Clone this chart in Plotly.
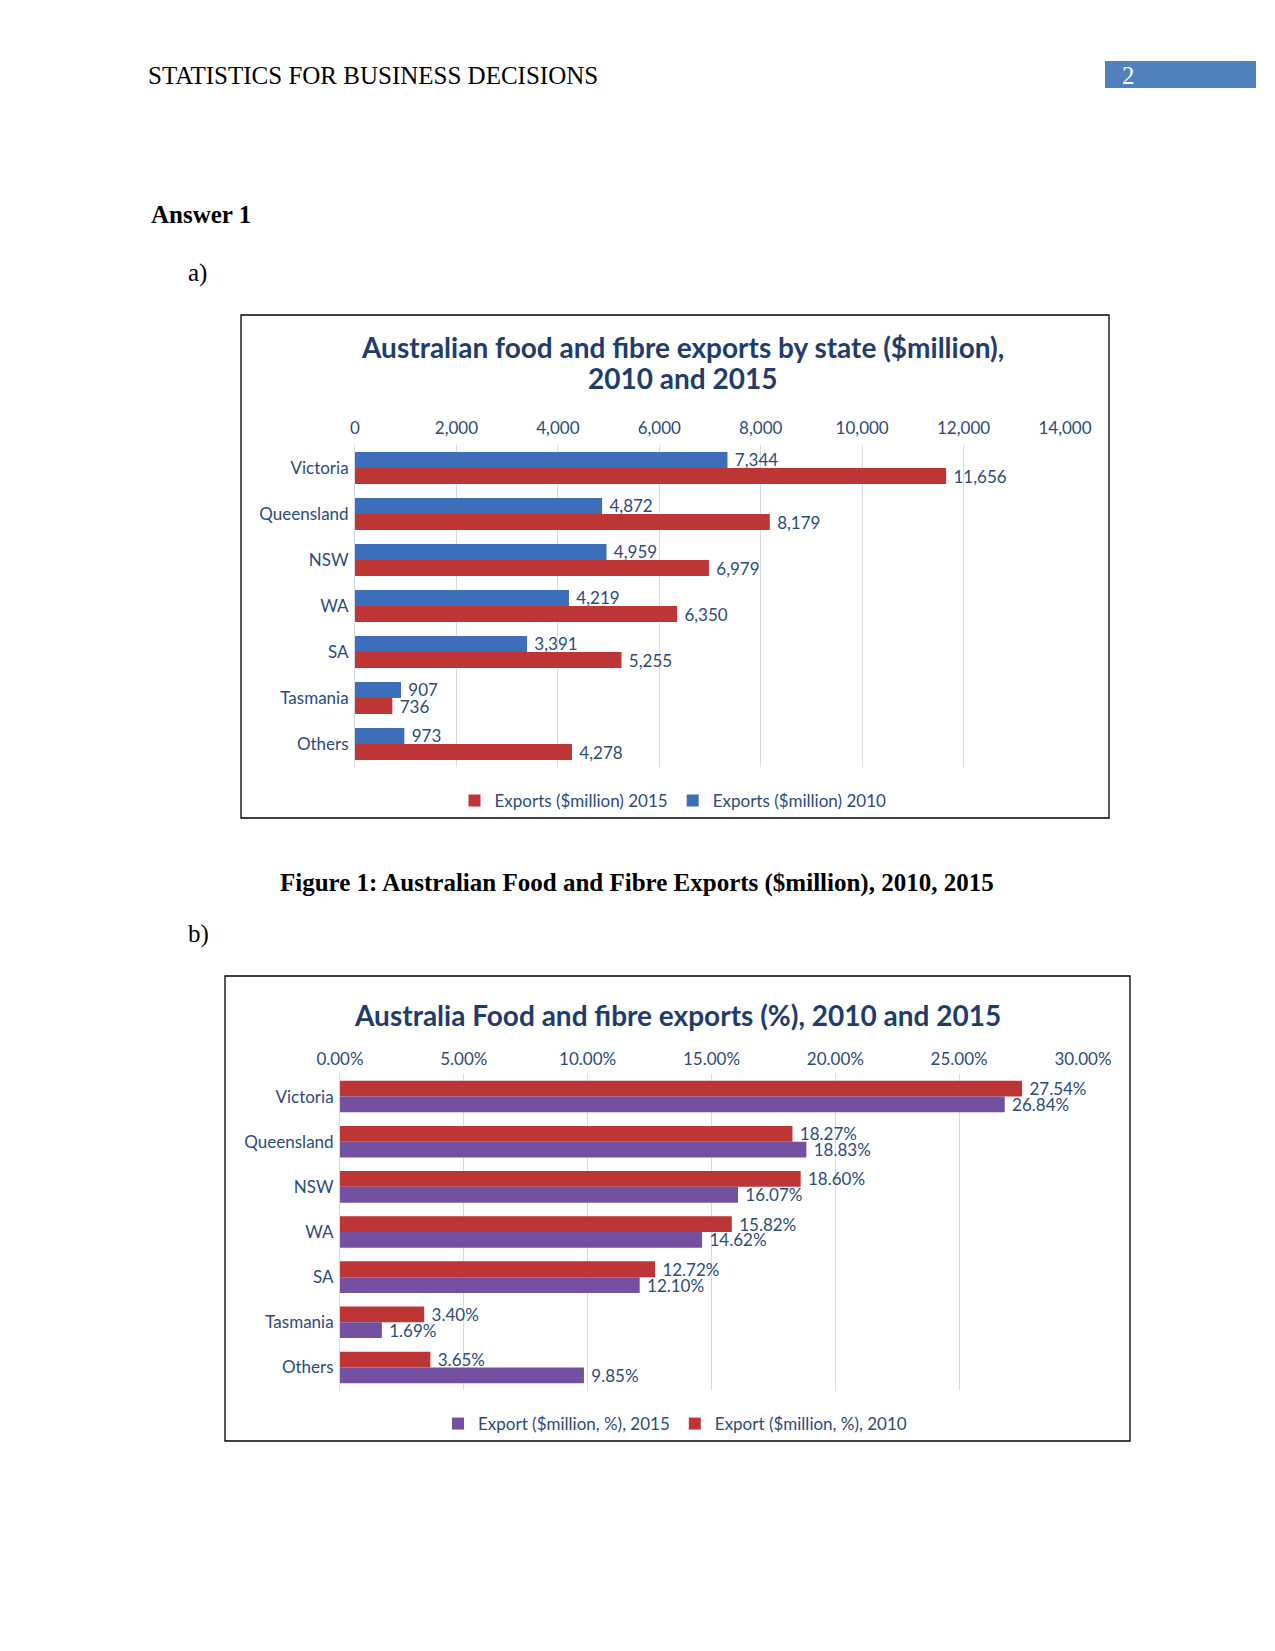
import plotly.graph_objects as go

W, H = 1275, 1651

states = ["Victoria", "Queensland", "NSW", "WA", "SA", "Tasmania", "Others"]
exports_2010 = [7344, 4872, 4959, 4219, 3391, 907, 973]
exports_2015 = [11656, 8179, 6979, 6350, 5255, 736, 4278]
share_2010 = [27.54, 18.27, 18.60, 15.82, 12.72, 3.40, 3.65]
share_2015 = [26.84, 18.83, 16.07, 14.62, 12.10, 1.69, 9.85]
ticks_abs = [0, 2000, 4000, 6000, 8000, 10000, 12000, 14000]
ticks_pct = [0, 5, 10, 15, 20, 25, 30]

BLUE = "#3D6EB9"
RED = "#BE3535"
PURPLE = "#7350A0"
TXT = "#2C4A7C"
TITLE = "#1F3C6E"
GRID = "#D5DCE6"
CHART_FONT = "Lato"
DOC_FONT = "Liberation Serif"
FS = 17
DOC_FS = 25
TITLE_FS = 28


def px(x):
    return x / W


def py(y):
    return 1 - y / H


fig = go.Figure()
label_font = dict(family=CHART_FONT, size=FS, color=TXT)

# Chart 1 traces (2010 on top within each group)
fig.add_trace(go.Bar(
    y=states, x=exports_2010, orientation="h", name="Exports ($million) 2010",
    marker=dict(color=BLUE, line=dict(width=0)), xaxis="x", yaxis="y",
    text=[f" {v:,}" for v in exports_2010], textposition="outside",
    textfont=label_font, constraintext="none", cliponaxis=False,
    legend="legend", legendrank=2,
))
fig.add_trace(go.Bar(
    y=states, x=exports_2015, orientation="h", name="Exports ($million) 2015",
    marker=dict(color=RED, line=dict(width=0)), xaxis="x", yaxis="y",
    text=[f" {v:,}" for v in exports_2015], textposition="outside",
    textfont=label_font, constraintext="none", cliponaxis=False,
    legend="legend", legendrank=1,
))

# Chart 2 traces (2010 on top within each group)
fig.add_trace(go.Bar(
    y=states, x=share_2010, orientation="h", name="Export ($million, %), 2010",
    marker=dict(color=RED, line=dict(width=0)), xaxis="x2", yaxis="y2",
    text=[f" {v:.2f}%" for v in share_2010], textposition="outside",
    textfont=label_font, constraintext="none", cliponaxis=False,
    legend="legend2", legendrank=2,
))
fig.add_trace(go.Bar(
    y=states, x=share_2015, orientation="h", name="Export ($million, %), 2015",
    marker=dict(color=PURPLE, line=dict(width=0)), xaxis="x2", yaxis="y2",
    text=[f" {v:.2f}%" for v in share_2015], textposition="outside",
    textfont=label_font, constraintext="none", cliponaxis=False,
    legend="legend2", legendrank=1,
))

axis_font = dict(family=CHART_FONT, size=FS, color=TXT)

fig.update_layout(
    width=W, height=H, autosize=False,
    margin=dict(l=0, r=0, t=0, b=0, pad=0, autoexpand=False),
    paper_bgcolor="white", plot_bgcolor="white",
    barmode="group", bargap=0.3, bargroupgap=0,
    showlegend=True,
    uniformtext=dict(mode=False),
    xaxis=dict(
        domain=[px(355), px(1065)], anchor="y", side="top",
        range=[0, 14000], tickvals=ticks_abs,
        ticktext=[f"{v:,}" for v in ticks_abs],
        showgrid=True, gridcolor=GRID, gridwidth=1, zeroline=False,
        showline=False, ticks="", tickfont=axis_font, ticklabelstandoff=7,
        automargin=False,
    ),
    yaxis=dict(
        domain=[py(767), py(445)], anchor="x",
        categoryorder="array", categoryarray=states,
        range=[6.5, -0.5], showgrid=False, zeroline=False,
        showline=True, linecolor=GRID, linewidth=1,
        ticks="", tickfont=axis_font, ticklabelstandoff=2, automargin=False,
    ),
    xaxis2=dict(
        domain=[px(340), px(1083)], anchor="y2", side="top",
        range=[0, 30], tickvals=ticks_pct,
        ticktext=[f"{v:.2f}%" for v in ticks_pct],
        showgrid=True, gridcolor=GRID, gridwidth=1, zeroline=False,
        showline=False, ticks="", tickfont=axis_font, ticklabelstandoff=5,
        automargin=False,
    ),
    yaxis2=dict(
        domain=[py(1390), py(1074)], anchor="x2",
        categoryorder="array", categoryarray=states,
        range=[6.5, -0.5], showgrid=False, zeroline=False,
        showline=True, linecolor=GRID, linewidth=1,
        ticks="", tickfont=axis_font, ticklabelstandoff=2, automargin=False,
    ),
    legend=dict(
        orientation="h", x=px(673), xanchor="center", y=py(801), yanchor="middle",
        font=dict(family=CHART_FONT, size=FS, color=TXT),
        itemwidth=30, tracegroupgap=0, bgcolor="rgba(0,0,0,0)",
    ),
    legend2=dict(
        orientation="h", x=px(675), xanchor="center", y=py(1424), yanchor="middle",
        font=dict(family=CHART_FONT, size=FS, color=TXT),
        itemwidth=30, tracegroupgap=0, bgcolor="rgba(0,0,0,0)",
    ),
)

shapes = [
    dict(type="rect", xref="paper", yref="paper", x0=px(241), x1=px(1109),
         y0=py(818), y1=py(315), line=dict(color="black", width=1.3)),
    dict(type="rect", xref="paper", yref="paper", x0=px(225), x1=px(1130),
         y0=py(1441), y1=py(976), line=dict(color="black", width=1.3)),
    dict(type="rect", xref="paper", yref="paper", x0=px(1105), x1=px(1256),
         y0=py(88), y1=py(61), line=dict(width=0), fillcolor="#4F81BD"),
]
fig.update_layout(shapes=shapes)

annotations = [
    dict(text="STATISTICS FOR BUSINESS DECISIONS", x=px(146), y=py(75),
         xanchor="left", yanchor="middle",
         font=dict(family=DOC_FONT, size=DOC_FS, color="black")),
    dict(text="2", x=px(1128), y=py(75), xanchor="center", yanchor="middle",
         font=dict(family=DOC_FONT, size=DOC_FS, color="white")),
    dict(text="<b>Answer 1</b>", x=px(149), y=py(215), xanchor="left", yanchor="middle",
         font=dict(family=DOC_FONT, size=DOC_FS, color="black")),
    dict(text="a)", x=px(186), y=py(273), xanchor="left", yanchor="middle",
         font=dict(family=DOC_FONT, size=DOC_FS, color="black")),
    dict(text="<b>Figure 1: Australian Food and Fibre Exports ($million), 2010, 2015</b>",
         x=px(637), y=py(883), xanchor="center", yanchor="middle",
         font=dict(family=DOC_FONT, size=DOC_FS, color="black")),
    dict(text="b)", x=px(186), y=py(934), xanchor="left", yanchor="middle",
         font=dict(family=DOC_FONT, size=DOC_FS, color="black")),
    dict(text="<b>Australian food and fibre exports by state ($million),</b>",
         x=px(682), y=py(347), xanchor="center", yanchor="middle",
         font=dict(family=CHART_FONT, size=TITLE_FS, color=TITLE)),
    dict(text="<b>2010 and 2015</b>",
         x=px(682), y=py(378), xanchor="center", yanchor="middle",
         font=dict(family=CHART_FONT, size=TITLE_FS, color=TITLE)),
    dict(text="<b>Australia Food and fibre exports (%), 2010 and 2015</b>",
         x=px(677), y=py(1015), xanchor="center", yanchor="middle",
         font=dict(family=CHART_FONT, size=TITLE_FS, color=TITLE)),
]
for a in annotations:
    a.update(xref="paper", yref="paper", showarrow=False)
fig.update_layout(annotations=annotations)

fig.write_html(
    "out.html",
    config={"responsive": False, "displayModeBar": False},
    post_script="document.body.style.margin='0';document.body.style.padding='0';",
)
